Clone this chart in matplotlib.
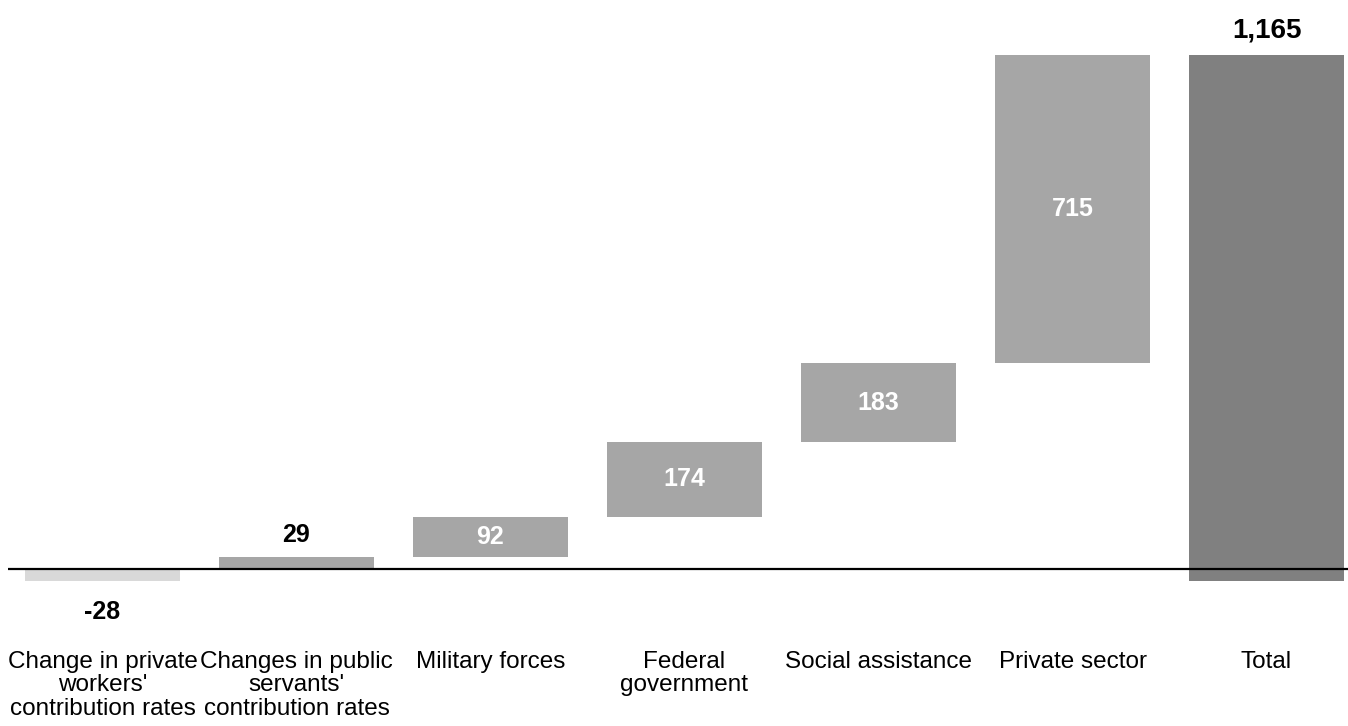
import numpy as np
import matplotlib
matplotlib.use('Agg')
import matplotlib.pyplot as plt

plt.rcParams['font.family'] = ['Liberation Sans', 'DejaVu Sans']

categories = ["Change in private\nworkers'\ncontribution rates",
              "Changes in public\nservants'\ncontribution rates",
              "Military forces",
              "Federal\ngovernment",
              "Social assistance",
              "Private sector",
              "Total"]
changes = [-28, 29, 92, 174, 183, 715]
total = 1165
labels = ['-28', '29', '92', '174', '183', '715', '1,165']

# bases as drawn in the original: the negative step is not carried forward
bottoms = [0]
run = 0
for v in changes[1:]:
    bottoms.append(run)
    run += v
top_total = run
bottom_total = changes[0]

fig = plt.figure(figsize=(13.48, 7.26), dpi=100)
W, H = 1348, 726
ax = fig.add_axes([8 / W, (H - 640) / H, (W - 8) / W, (640 - 20) / H])

x = np.arange(len(categories))
colors = ['#d9d9d9'] + ['#a6a6a6'] * 5
ax.bar(x[:6], changes, bottom=bottoms, width=0.8, color=colors, zorder=2)
ax.bar(x[6], top_total - bottom_total, bottom=bottom_total, width=0.8,
       color='#808080', zorder=2)
ax.axhline(0, color='black', lw=1.6, zorder=3)

# value labels
ax.annotate(labels[0], (x[0], changes[0]), xytext=(0, -22), textcoords='offset points',
            ha='center', va='center', fontsize=18, fontweight='bold')
ax.annotate(labels[1], (x[1], changes[1]), xytext=(0, 15.5), textcoords='offset points',
            ha='center', va='center', fontsize=18, fontweight='bold')
for i in range(2, 6):
    ax.text(x[i], bottoms[i] + changes[i] / 2, labels[i], ha='center', va='center',
            fontsize=18, fontweight='bold', color='white', zorder=4)
ax.annotate(labels[6], (x[6], top_total), xytext=(0, 18), textcoords='offset points',
            ha='center', va='center', fontsize=20, fontweight='bold')

ax.set_xlim(-0.487, 6.42)
ax.set_ylim(-(640 - 569) / 0.4305, (569 - 20) / 0.4305)
ax.set_xticks(x)
ax.set_xticklabels(categories, fontsize=17.5, linespacing=1.08)
ax.tick_params(axis='x', length=0, pad=8)
ax.set_yticks([])
for s in ax.spines.values():
    s.set_visible(False)

fig.savefig('out.png', dpi=100)
